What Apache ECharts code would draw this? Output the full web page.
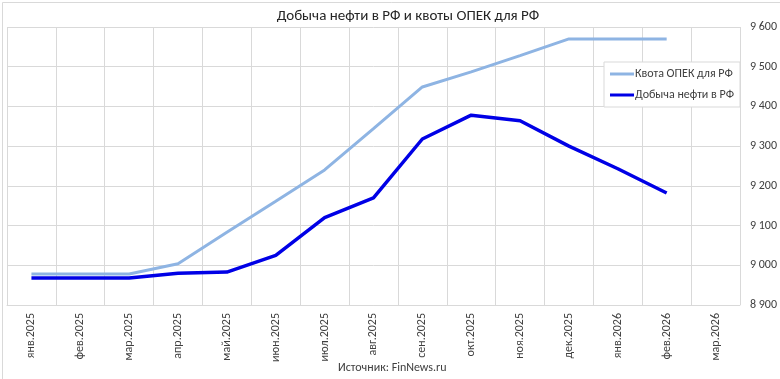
<!DOCTYPE html>
<html>
<head>
<meta charset="utf-8">
<script src="https://cdn.jsdelivr.net/npm/echarts@6/dist/echarts.min.js"></script>
<style>
html,body{margin:0;padding:0;background:#fff;}
#chart{width:780px;height:379px;}
</style>
</head>
<body>
<div id="chart"></div>
<script>
const categories = ["янв.2025","фев.2025","мар.2025","апр.2025","май.2025","июн.2025","июл.2025","авг.2025","сен.2025","окт.2025","ноя.2025","дек.2025","янв.2026","фев.2026","мар.2026"];
const quotaName = "Квота ОПЕК для РФ";
const prodName = "Добыча нефти в РФ";
const quotaValues = [8978, 8978, 8978, 9004, 9083, 9161, 9240, 9344, 9449, 9487, 9528, 9570, 9570, 9570, null];
const prodValues = [8968, 8968, 8968, 8980, 8983, 9025, 9120, 9170, 9318, 9378, 9364, 9300, 9243, 9182, null];
const yMin = 8900, yMax = 9600, yStep = 100;
const titleText = "Добыча нефти в РФ и квоты ОПЕК для РФ";
const sourceText = "Источник: FinNews.ru";

const FONT = 'Carlito, Calibri, "Open Sans", "Liberation Sans", sans-serif';
const chart = echarts.init(document.getElementById('chart'), null, {renderer: 'canvas'});
chart.setOption({
  animation: false,
  backgroundColor: '#fff',
  textStyle: {fontFamily: FONT},
  title: {
    text: titleText,
    left: 403, top: 4, textAlign: 'center',
    textStyle: {fontFamily: FONT, fontSize: 15, fontWeight: 'normal', color: '#262626'}
  },
  graphic: [
    {type: 'rect', left: 0, top: 0, shape: {width: 779, height: 378},
     style: {fill: 'none', stroke: '#d9d9d9', lineWidth: 1}, silent: true, z: -1},
    {type: 'text', left: 338, top: 362,
     style: {text: sourceText, fontFamily: FONT, fontSize: 12, fill: '#404040'}}
  ],
  legend: {
    orient: 'vertical',
    left: 604, top: 62,
    padding: [6, 6, 6, 6],
    itemGap: 9,
    itemWidth: 24, itemHeight: 3,
    icon: 'rect',
    backgroundColor: '#fff',
    borderColor: '#d9d9d9', borderWidth: 1,
    textStyle: {fontFamily: FONT, fontSize: 12, color: '#404040', padding: [0, 0, 0, -4]},
    data: [quotaName, prodName]
  },
  grid: {left: 7, right: 40, top: 27, bottom: 74},
  xAxis: {
    type: 'category',
    data: categories,
    boundaryGap: true,
    axisLine: {show: true, lineStyle: {color: '#d9d9d9', width: 1}},
    axisTick: {show: false},
    splitLine: {show: true, interval: 0, lineStyle: {color: '#d9d9d9', width: 1}},
    axisLabel: {rotate: 90, interval: 0, margin: 8, fontFamily: FONT, fontSize: 12, color: '#404040'}
  },
  yAxis: {
    type: 'value',
    position: 'right',
    min: yMin, max: yMax, interval: yStep,
    axisLine: {show: false},
    axisTick: {show: false},
    splitLine: {show: true, lineStyle: {color: '#d9d9d9', width: 1}},
    axisLabel: {
      margin: 10, fontFamily: FONT, fontSize: 12, color: '#404040',
      formatter: v => String(v).replace(/\B(?=(\d{3})+(?!\d))/g, ' ')
    }
  },
  series: [
    {
      name: quotaName, type: 'line', data: quotaValues,
      symbol: 'none', smooth: false,
      lineStyle: {color: '#8eb4e3', width: 3},
      itemStyle: {color: '#8eb4e3'}, z: 2
    },
    {
      name: prodName, type: 'line', data: prodValues,
      symbol: 'none', smooth: false,
      lineStyle: {color: '#0000e6', width: 3.5},
      itemStyle: {color: '#0000e6'}, z: 3
    }
  ]
});
</script>
</body>
</html>
